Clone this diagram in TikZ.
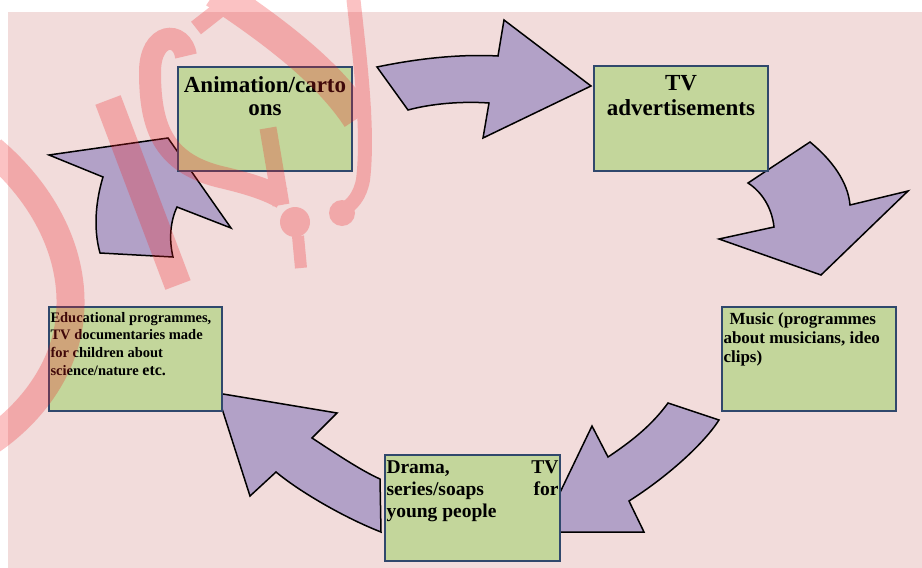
\documentclass[tikz,border=0pt]{standalone}
\usepackage{fontspec}
\setmainfont{Liberation Serif}

\definecolor{slidebg}{RGB}{242,220,219}
\definecolor{topicfill}{RGB}{195,214,155}
\definecolor{topicline}{RGB}{48,72,108}
\definecolor{arrowfill}{RGB}{178,161,199}
\definecolor{stampred}{RGB}{240,30,35}

\newcommand{\topictext}[5]{\parbox[c][#2pt][t]{#1pt}{#3\rule{0pt}{#4pt}#5}}

\tikzset{
	topic/.style={draw=topicline, fill=topicfill, line width=1.3pt, inner xsep=1.5pt, inner ysep=0pt, font=\bfseries},
	blockarrow/.style={draw=black, fill=arrowfill, line width=1.5pt},
	stamp/.style={draw=stampred, line width=#1},
	stamp/.default=20pt
}

\begin{document}
\begin{tikzpicture}[x=1pt,y=-1pt]
		\useasboundingbox (0,0) rectangle (922,568);
		\fill[slidebg] (8,12) rectangle (922,568);
		
		\filldraw[blockarrow] (377,67) .. controls (420,58) and (462,54) .. (498,56) -- (504,20) -- (591,86) -- (483,138) -- (489,103) .. controls (460,101) and (430,104) .. (408,110) -- cycle;
		\filldraw[blockarrow] (810,142) .. controls (832,160) and (848,182) .. (850,205) -- (908,191) -- (821,275) -- (719,239) -- (774,227) .. controls (772,208) and (762,192) .. (748,183) -- cycle;
		\filldraw[blockarrow] (668,403) -- (719,420) .. controls (705,442) and (670,475) .. (629,501) -- (644,532) -- (541,532) -- (592,426) -- (608,457) .. controls (632,441) and (652,425) .. (668,403) -- cycle;
		\filldraw[blockarrow] (381,532) -- (380,479) .. controls (360,470) and (335,453) .. (312,438) -- (337,413) -- (217,393) -- (250,496) -- (276,472) .. controls (300,492) and (345,518) .. (381,532) -- cycle;
		\filldraw[blockarrow] (100,253) .. controls (93,228) and (96,200) .. (103,177) -- (49,155) -- (168,138) -- (231,228) -- (177,207) .. controls (170,222) and (169,240) .. (173,257) -- cycle;
		
		\node[topic] (anim)  at (265,119)   {\topictext{171}{104}{\fontsize{23}{23.5}\selectfont\centering}{25}{Animation/carto\\ons}};
		\node[topic] (ads)   at (681,118.5) {\topictext{171}{105}{\fontsize{23}{25}\selectfont\centering}{24}{TV\\advertisements}};
		\node[topic] (music) at (809,359)   {\topictext{171}{104}{\fontsize{17}{19}\selectfont\raggedright}{17}{\hspace*{6pt}Music (programmes\\about musicians, ideo\\clips)}};
		\node[topic] (drama) at (472.5,508) {\topictext{172}{106}{\fontsize{19.5}{22.3}\selectfont}{18}{Drama,\hfill TV\\series/soaps\hfill for\\young people}};
		\node[topic] (edu)   at (135.5,359) {\topictext{170}{104}{\fontsize{14.5}{17.8}\selectfont\raggedright}{15}{Educational programmes,\\TV documentaries made\\for children about\\science/nature {\fontsize{16}{19}\selectfont etc.}}};
		
		\begin{scope}[transparency group, opacity=0.27]
			\clip (0,0) rectangle (922,568);
			\draw[stamp=28pt] (-8,150) .. controls (45,195) and (75,255) .. (70,315) .. controls (66,365) and (35,410) .. (-8,440);
			\draw[stamp=27pt] (108,100) -- (178,285);
			\draw[stamp=22pt] (186,56) .. controls (182,30) and (150,32) .. (150,72) .. controls (150,130) and (165,165) .. (225,178) .. controls (250,184) and (268,190) .. (282,198);
			\draw[stamp=17pt] (268,128) -- (281,205);
			\fill[stampred] (295,222) circle (15);
			\draw[stamp=12pt] (298,236) -- (301,268);
			\draw[stamp=32pt] (215,-8) .. controls (280,35) and (330,75) .. (358,118);
			\draw[stamp=16pt] (196,28) -- (224,6);
			\draw[stamp=14pt] (353,-5) .. controls (360,60) and (369,130) .. (363,180) .. controls (360,196) and (352,205) .. (343,210);
			\fill[stampred] (342,213) circle (13);
		\end{scope}
	\end{tikzpicture}
\end{document}
